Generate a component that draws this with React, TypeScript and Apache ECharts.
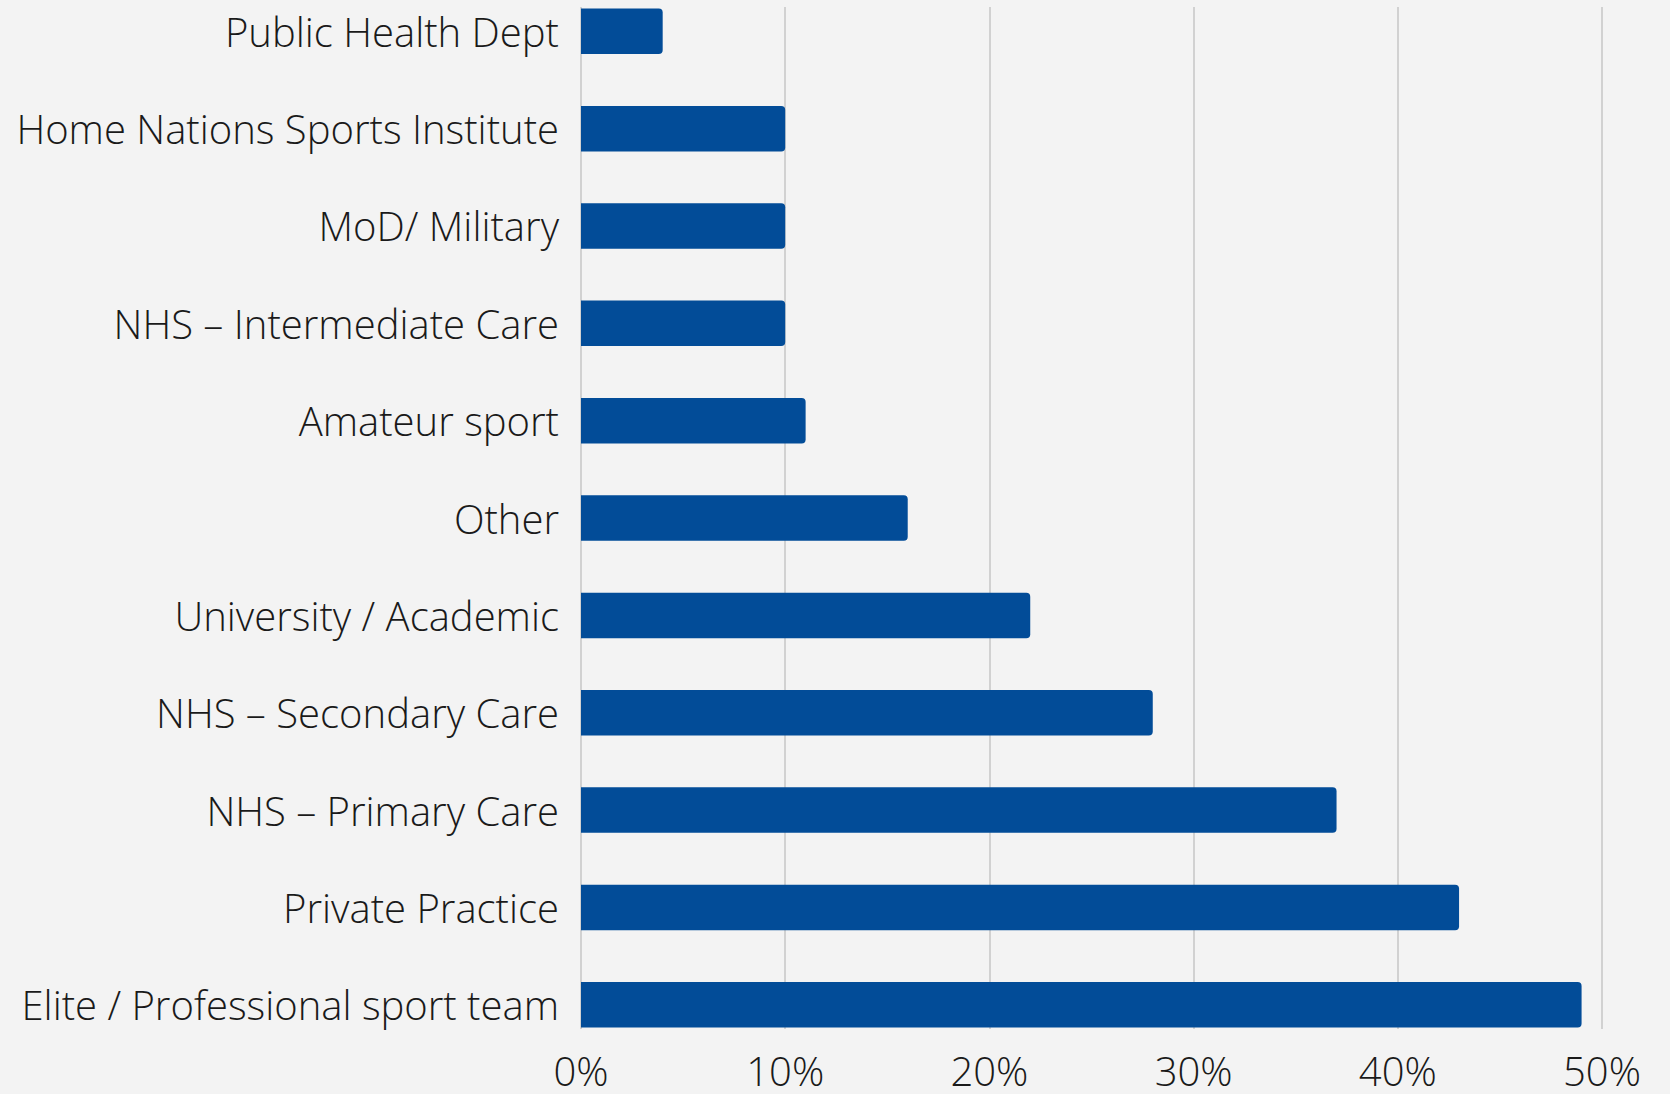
import React, { useEffect, useRef } from "react";
import * as echarts from "echarts";

const categories = [
  "Public Health Dept",
  "Home Nations Sports Institute",
  "MoD/ Military",
  "NHS – Intermediate Care",
  "Amateur sport",
  "Other",
  "University / Academic",
  "NHS – Secondary Care",
  "NHS – Primary Care",
  "Private Practice",
  "Elite / Professional sport team",
];
const values = [4, 10, 10, 10, 11, 16, 22, 28, 37, 43, 49];
const xMin = 0;
const xMax = 50;
const xStep = 10;

export default function App() {
  const ref = useRef<HTMLDivElement>(null);
  useEffect(() => {
    document.body.style.margin = "0";
    document.body.style.overflow = "hidden";
    const chart = echarts.init(ref.current!, null, { renderer: "svg" });
    const font = "'Open Sans', 'Noto Sans', sans-serif";
    chart.setOption({
      animation: false,
      backgroundColor: "#F3F3F3",
      grid: [
        { left: 581, right: 68, top: -17.4, bottom: 40.5, containLabel: false, outerBoundsMode: "none" },
        { left: 581, right: 68, top: 7, bottom: 65, containLabel: false, outerBoundsMode: "none" },
      ],
      xAxis: [
        {
          gridIndex: 0,
          type: "value",
          min: xMin,
          max: xMax,
          interval: xStep,
          show: false,
        },
        {
          gridIndex: 1,
          type: "value",
          min: xMin,
          max: xMax,
          interval: xStep,
          axisLine: { show: false },
          axisTick: { show: false },
          splitLine: { show: true, lineStyle: { color: "#C6C6C6", width: 1.5 } },
          axisLabel: {
            formatter: "{value}%",
            fontFamily: font,
            fontWeight: 300,
            fontSize: 40,
            lineHeight: 34,
            color: "#1a1a1a",
            margin: 24,
          },
        },
      ],
      yAxis: [
        {
          gridIndex: 0,
          type: "category",
          data: categories,
          inverse: true,
          axisLine: { show: false },
          axisTick: { show: false },
          splitLine: { show: false },
          axisLabel: {
            fontFamily: font,
            fontWeight: 300,
            fontSize: 40,
            color: "#1a1a1a",
            margin: 22,
          },
        },
        {
          gridIndex: 1,
          type: "category",
          data: categories,
          inverse: true,
          show: false,
        },
      ],
      series: [
        {
          type: "bar",
          xAxisIndex: 0,
          yAxisIndex: 0,
          data: values,
          barWidth: 45.5,
          itemStyle: { color: "#024C98", borderRadius: [0, 4, 4, 0] },
        },
      ],
    });
    return () => chart.dispose();
  }, []);
  return <div ref={ref} style={{ width: 1670, height: 1094 }} />;
}
